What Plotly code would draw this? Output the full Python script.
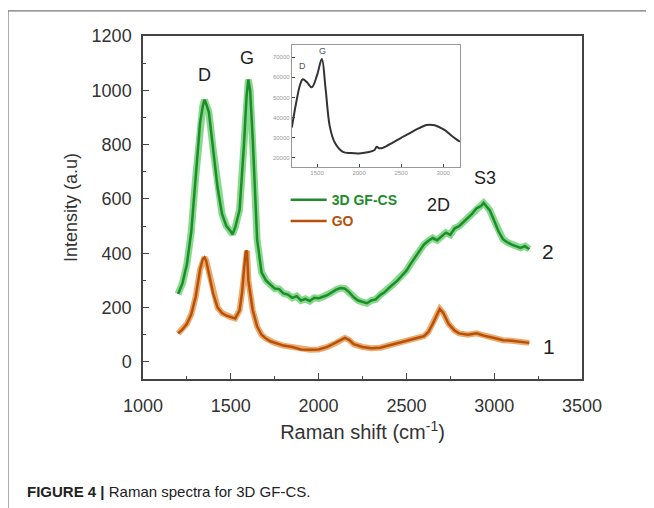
import plotly.graph_objects as go

# --- main spectra ---
gf_x = [1200,1225,1250,1275,1300,1325,1340,1350,1360,1375,1400,1425,1450,1475,1500,1510,1525,1550,1575,1590,1600,1610,1625,1650,1675,1700,1725,1750,1775,1800,1825,1850,1875,1900,1925,1950,1975,2000,2025,2050,2075,2100,2125,2150,2175,2200,2225,2250,2275,2300,2325,2350,2375,2400,2425,2450,2475,2500,2525,2550,2575,2600,2625,2650,2675,2700,2725,2750,2775,2800,2825,2850,2875,2900,2925,2940,2950,2960,2975,3000,3025,3050,3075,3100,3125,3150,3175,3200]
gf_y = [250,290,360,480,680,880,940,965,950,920,780,640,545,500,480,470,495,560,800,980,1040,1000,820,450,330,300,285,270,268,252,248,236,242,226,232,224,236,234,240,246,256,266,272,270,256,238,226,220,216,226,230,246,256,272,286,300,318,336,362,386,412,432,446,456,448,462,476,468,492,500,516,530,546,566,574,585,578,572,558,520,480,452,440,432,425,420,426,415]

go_x = [1200,1225,1250,1275,1300,1325,1340,1350,1360,1375,1400,1425,1450,1475,1500,1525,1550,1565,1575,1585,1592,1600,1625,1650,1675,1700,1725,1750,1800,1850,1900,1950,2000,2050,2100,2125,2150,2175,2200,2250,2300,2350,2400,2450,2500,2550,2600,2625,2650,2675,2690,2710,2740,2775,2800,2850,2900,2925,2950,3000,3050,3100,3150,3200]
go_y = [105,120,140,175,240,340,378,385,372,330,250,200,180,170,165,160,190,260,340,405,410,300,190,130,100,86,76,70,60,55,46,45,46,55,70,80,88,80,65,55,50,52,60,70,78,86,95,110,140,175,195,180,140,115,105,100,105,100,95,88,80,78,75,70]

# --- inset spectrum ---
in_x = [1200,1250,1300,1331,1380,1438,1500,1557,1600,1652,1712,1807,1900,2000,2100,2180,2210,2240,2283,2400,2500,2569,2700,2800,2843,2900,3000,3045,3100,3200]
in_y = [35000,47000,56500,59000,57500,55000,61000,69000,55000,35500,27500,23000,22400,22200,22800,23800,25500,24800,25000,27600,30000,31500,34500,36300,36500,36200,34300,33000,31000,28000]

peak_labels = ["D", "G", "2D", "S3", "2", "1"]
peak_lx = [1353, 1592, 2680, 2948, 3306, 3312]
peak_ly = [1056, 1119, 578, 677, 405, 55]
peak_sz = [18, 18, 18, 18, 21, 21]

inset_labels = ["D", "G"]
inset_lx = [1331, 1569]
inset_ly = [65500, 73000]

GREEN = "#1e8c2c"
GREEN_L = "rgba(95,205,100,0.75)"
ORANGE = "#b5520a"
ORANGE_L = "rgba(232,140,60,0.75)"

fig = go.Figure()
fig.add_trace(go.Scatter(x=gf_x, y=gf_y, mode="lines", line=dict(color=GREEN_L, width=7),
                         showlegend=False, hoverinfo="skip"))
fig.add_trace(go.Scatter(x=gf_x, y=gf_y, mode="lines", line=dict(color=GREEN, width=2.5),
                         name='<span style="color:#1e8c2c"><b>3D GF-CS</b></span>'))
fig.add_trace(go.Scatter(x=go_x, y=go_y, mode="lines", line=dict(color=ORANGE_L, width=6),
                         showlegend=False, hoverinfo="skip"))
fig.add_trace(go.Scatter(x=go_x, y=go_y, mode="lines", line=dict(color=ORANGE, width=2.5),
                         name='<span style="color:#b5520a"><b>GO</b></span>'))
fig.add_trace(go.Scatter(x=in_x, y=in_y, mode="lines", line=dict(color="#333333", width=2),
                         xaxis="x2", yaxis="y2", showlegend=False, line_shape="spline"))

ann = []
for t, x, y, s in zip(peak_labels, peak_lx, peak_ly, peak_sz):
    ann.append(dict(x=x, y=y, xref="x", yref="y", text=t, showarrow=False,
                    font=dict(size=s, color="#222222")))
for t, x, y in zip(inset_labels, inset_lx, inset_ly):
    ann.append(dict(x=x, y=y, xref="x2", yref="y2", text=t, showarrow=False,
                    font=dict(size=9, color="#555555")))
ann.append(dict(x=-0.269, y=-0.329, xref="paper", yref="paper", xanchor="left", yanchor="middle",
                text="<b>FIGURE 4 |</b> Raman spectra for 3D GF-CS.", showarrow=False,
                font=dict(size=15, color="#222222")))

fig.update_layout(
    width=654, height=508,
    margin=dict(l=135, r=80, t=28, b=137),
    paper_bgcolor="white", plot_bgcolor="white",
    font=dict(family="Liberation Sans, Arial, sans-serif", color="#333333"),
    xaxis=dict(range=[1000, 3500], dtick=500, tick0=1000, ticks="inside", ticklen=6,
               minor=dict(dtick=250, ticks="inside", ticklen=3, tickcolor="#444"),
               showline=True, linecolor="#444", linewidth=1.5, mirror=True, showgrid=False,
               zeroline=False, tickfont=dict(size=18, color="#333"), ticklabelstandoff=10,
               title=dict(text="Raman shift (cm<sup>-1</sup>)", font=dict(size=20, color="#333"), standoff=10)),
    yaxis=dict(range=[-63, 1200], dtick=200, tick0=0, ticks="inside", ticklen=6,
               minor=dict(dtick=100, ticks="inside", ticklen=3, tickcolor="#444"),
               showline=True, linecolor="#444", linewidth=1.5, mirror=True, showgrid=False,
               zeroline=False, tickfont=dict(size=18, color="#333"), ticklabelstandoff=6,
               title=dict(text="Intensity (a.u)", font=dict(size=18, color="#333"), standoff=9)),
    xaxis2=dict(domain=[0.339, 0.722], anchor="y2", range=[1200, 3200],
                tickvals=[1500, 2000, 2500, 3000], ticks="inside", ticklen=3,
                showline=True, linecolor="#999", mirror=True, showgrid=False, zeroline=False,
                tickfont=dict(size=6, color="#999")),
    yaxis2=dict(domain=[0.618, 0.974], anchor="x2", range=[15500, 76000],
                dtick=10000, tickformat="d", ticks="inside", ticklen=3,
                showline=True, linecolor="#999", mirror=True, showgrid=False, zeroline=False,
                tickfont=dict(size=6, color="#999")),
    legend=dict(x=0.325, y=0.568, xanchor="left", yanchor="top", bgcolor="rgba(0,0,0,0)",
                font=dict(size=14), tracegroupgap=0, itemwidth=36),
    annotations=ann,
    shapes=[dict(type="path", xref="paper", yref="paper",
                 path="M -0.3075,-0.5 L -0.3075,1.073 L 1.3,1.073",
                 line=dict(color="#777777", width=1.2))],
)

fig.write_html("out.html")
